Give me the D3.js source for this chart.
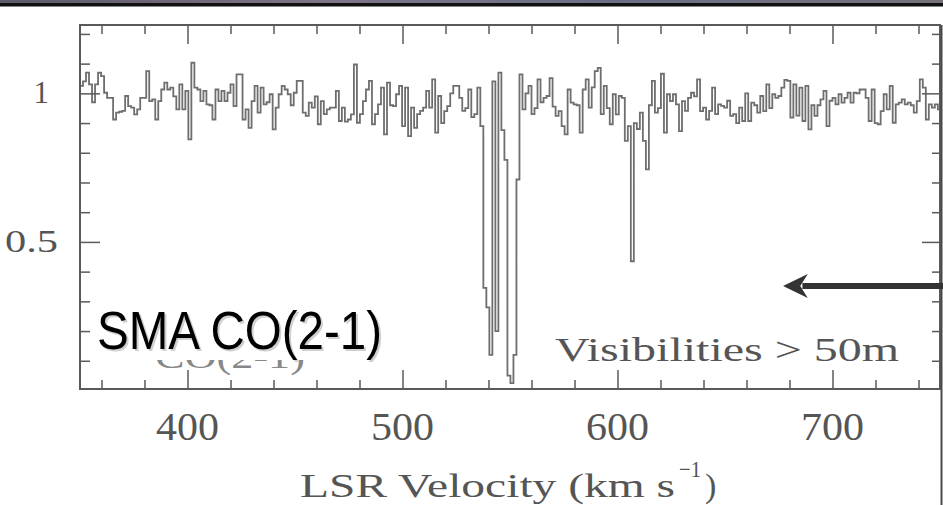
<!DOCTYPE html>
<html>
<head>
<meta charset="utf-8">
<script src="https://cdn.jsdelivr.net/npm/d3@7"></script>
<style>
  html, body { margin: 0; padding: 0; background: #fff; }
  svg { display: block; }
</style>
</head>
<body>
<svg id="chart" width="943" height="505"></svg>
<script>
// Spectrum: SMA CO(2-1), channels of 1.4 km/s starting at 350 km/s
const velStart = 350
const channelWidth = 1.4

// 350 - 446.6 km/s
const fluxA = [1.025, 1.04, 1.07, 1.03, 0.97, 1.03, 1.07, 1.058, 1.002, 0.985,
  0.985, 0.912, 0.935, 0.938, 0.941, 0.991, 0.957, 0.952, 0.929, 0.946,
  0.985, 0.985, 1.075, 0.974, 0.98, 0.912, 0.974, 1.013, 1.036, 1.013,
  1.019, 0.99, 0.946, 1.03, 0.946, 1.008, 0.845, 1.103, 1.019, 1.013,
  0.974, 1.008, 0.963, 0.96, 0.912, 1.013, 0.974, 1.008, 0.974, 1.002,
  1.03, 0.957, 1.064, 1.064, 0.912, 0.946, 0.884, 0.974, 1.025, 0.935,
  1.019, 0.963, 0.97, 0.997, 0.879, 0.952, 0.997, 1.025, 1.013]

// 446.6 - 537.6 km/s
const fluxB = [0.997, 0.96, 1.002, 1.042, 1.042, 0.935, 0.924, 0.969, 0.952, 0.99,
  0.896, 0.974, 0.93, 0.946, 0.952, 0.952, 1.008, 0.907, 0.952, 0.905,
  0.912, 0.929, 1.097, 0.901, 0.93, 0.974, 1.013, 1.042, 0.896, 0.93,
  0.963, 1.019, 0.862, 1.036, 0.96, 0.957, 0.997, 1.025, 0.89, 1.019,
  0.856, 0.952, 0.884, 0.93, 0.941, 0.952, 1.008, 0.952, 1.047, 0.868,
  0.991, 0.9, 0.94, 0.957, 1.0, 1.025, 1.025, 0.985, 0.941, 0.95,
  1.013, 0.92, 0.93, 1.019, 0.89]

// 537.6 - 558.6 km/s, the absorption complex
const fluxC = [0.345, 0.28, 0.12, 1.04, 0.2, 1.07, 0.876, 0.776, 0.05, 0.025,
  0.12, 0.71, 1.064, 0.946, 1.0]

// 558.6 - 750.4 km/s
const fluxD = [1.025, 0.93, 0.95, 1.047, 0.97, 0.985, 0.991, 1.051, 0.955, 0.924,
  0.94, 0.89, 0.862, 1.013, 0.969, 0.963, 0.96, 0.868, 1.013, 1.047,
  0.952, 1.02, 1.075, 1.086, 0.93, 1.025, 0.95, 0.896, 0.997, 0.929,
  0.991, 0.985, 0.84, 0.89, 0.435, 0.9, 0.88, 0.935, 0.84, 0.744,
  0.96, 1.042, 0.935, 0.95, 1.066, 0.868, 0.997, 0.974, 0.997, 0.963,
  0.873, 0.974, 0.941, 0.985, 1.002, 0.99, 1.047, 0.94, 0.952, 0.912,
  0.941, 1.019, 0.93, 0.963, 0.958, 0.952, 0.975, 0.924, 0.93, 0.9,
  0.952, 0.907, 1.0, 0.907, 0.969, 0.96, 0.935, 0.991, 0.94, 1.03,
  0.95, 0.997, 0.985, 0.991, 1.019, 1.045, 1.042, 0.918, 1.03, 0.925,
  1.019, 0.907, 1.025, 0.879, 0.96, 0.924, 0.96, 0.98, 1.008, 0.89,
  0.975, 0.985, 0.963, 0.997, 0.969, 0.985, 1.002, 0.969, 1.002, 1.0,
  1.013, 1.013, 0.985, 0.907, 1.013, 0.9, 0.896, 0.94, 0.997, 0.946,
  1.025, 0.901, 0.963, 0.969, 0.98, 0.963, 0.969, 0.96, 0.935, 0.974,
  1.047, 1.019, 0.912, 0.963, 0.952, 0.963, 0.946]

// axes
const velMajor = [400, 500, 600, 700]
const velLabels = ["400", "500", "600", "700"]
const velMinor = [360, 380, 420, 440, 460, 480, 520, 540, 560, 580, 620, 640, 660, 680, 720, 740]
const fluxMajor = [0.5, 1]
const fluxLabels = ["0.5", "1"]
const fluxMinor = [0.1, 0.2, 0.3, 0.4, 0.6, 0.7, 0.8, 0.9, 1.1, 1.2]

const serif = "'Liberation Serif', 'Times New Roman', serif"
const axisColor = "#5a5a5a"

const svg = d3.select("#chart")

const x = d3.scaleLinear().domain([350, 750]).range([80, 940])
const y = d3.scaleLinear().domain([0.005, 1.23]).range([389, 25])

// top strip of the slide background
const grad = svg.append("defs").append("linearGradient").attr("id", "band")
grad.append("stop").attr("offset", "0%").attr("stop-color", "#5e5a68")
grad.append("stop").attr("offset", "35%").attr("stop-color", "#7d7488")
grad.append("stop").attr("offset", "65%").attr("stop-color", "#6a6f86")
grad.append("stop").attr("offset", "100%").attr("stop-color", "#75707a")
svg.append("rect").attr("x", 0).attr("y", 0).attr("width", 943).attr("height", 3).attr("fill", "url(#band)")
svg.append("rect").attr("x", 0).attr("y", 3).attr("width", 943).attr("height", 3.5).attr("fill", "#111")

svg.append("clipPath").attr("id", "plotClip")
    .append("rect")
        .attr("x", x(350)).attr("y", y(1.23))
        .attr("width", x(750) - x(350)).attr("height", y(0.005) - y(1.23))

// spectrum as a step histogram
const flux = [...fluxA, ...fluxB, ...fluxC, ...fluxD]
const channels = flux.map((f, i) => ({ v: velStart + i * channelWidth, f: f }))
channels.push({ v: velStart + flux.length * channelWidth, f: flux[flux.length - 1] })

const line = d3.line()
    .x(d => x(d.v))
    .y(d => y(d.f))
    .curve(d3.curveStepAfter)

svg.append("path")
    .datum(channels)
    .attr("clip-path", "url(#plotClip)")
    .attr("fill", "none")
    .attr("stroke", "#6e6e6e")
    .attr("stroke-width", 1.8)
    .attr("d", line)

// ticks on all four sides, pointing inward
function tickAxis(axis, values, size, transform) {
    const g = svg.append("g")
        .attr("transform", transform)
        .call(axis.tickValues(values).tickSize(size).tickSizeOuter(0).tickFormat(""))
    g.select(".domain").remove()
    g.selectAll(".tick line").attr("stroke", axisColor).attr("stroke-width", 1.5)
    return g
}

tickAxis(d3.axisBottom(x), velMinor, -9, `translate(0,${y(0.005)})`)
tickAxis(d3.axisBottom(x), velMajor, -19, `translate(0,${y(0.005)})`)
tickAxis(d3.axisTop(x), velMinor, -9, `translate(0,${y(1.23)})`)
tickAxis(d3.axisTop(x), velMajor, -19, `translate(0,${y(1.23)})`)
tickAxis(d3.axisLeft(y), fluxMinor, -10, `translate(${x(350)},0)`)
tickAxis(d3.axisLeft(y), fluxMajor, -20, `translate(${x(350)},0)`)
tickAxis(d3.axisRight(y), fluxMinor, -8, `translate(${x(750)},0)`)
tickAxis(d3.axisRight(y), fluxMajor, -18, `translate(${x(750)},0)`)

// frame
svg.append("rect")
    .attr("x", x(350)).attr("y", y(1.23))
    .attr("width", x(750) - x(350)).attr("height", y(0.005) - y(1.23))
    .attr("fill", "none")
    .attr("stroke", axisColor)
    .attr("stroke-width", 2)

// slide edge on the right
svg.append("line")
    .attr("x1", 941.5).attr("x2", 941.5).attr("y1", y(1.23)).attr("y2", 505)
    .attr("stroke", "#4a4a4a").attr("stroke-width", 2)

// tick labels
svg.append("g").selectAll("text")
    .data(velMajor)
    .join("text")
        .attr("x", d => x(d))
        .attr("y", 440)
        .attr("text-anchor", "middle")
        .attr("font-family", serif)
        .attr("font-size", 39)
        .attr("fill", "#555")
        .attr("textLength", 63)
        .attr("lengthAdjust", "spacingAndGlyphs")
        .text((d, i) => velLabels[i])

svg.append("g").selectAll("text")
    .data(fluxMajor)
    .join("text")
        .attr("x", (d, i) => fluxLabels[i].length > 1 ? 58 : 49)
        .attr("y", d => y(d) + 10)
        .attr("text-anchor", "end")
        .attr("font-family", serif)
        .attr("font-size", 31)
        .attr("fill", "#555")
        .each(function (d, i) {
            if (fluxLabels[i].length > 1) d3.select(this).attr("textLength", 53).attr("lengthAdjust", "spacingAndGlyphs")
        })
        .text((d, i) => fluxLabels[i])

// axis title
const title = svg.append("g").attr("font-family", serif).attr("fill", "#555")
title.append("text")
    .attr("x", 300).attr("y", 497)
    .attr("font-size", 34)
    .attr("textLength", 375)
    .attr("lengthAdjust", "spacingAndGlyphs")
    .text("LSR Velocity (km s")
title.append("text")
    .attr("x", 679).attr("y", 477)
    .attr("font-size", 23)
    .attr("textLength", 22)
    .attr("lengthAdjust", "spacingAndGlyphs")
    .text("\u22121")
title.append("text")
    .attr("x", 705).attr("y", 497)
    .attr("font-size", 34)
    .text(")")

// annotation inside the plot
svg.append("text")
    .attr("x", 555).attr("y", 361)
    .attr("font-family", serif)
    .attr("font-size", 33)
    .attr("fill", "#555")
    .attr("textLength", 344)
    .attr("lengthAdjust", "spacingAndGlyphs")
    .text("Visibilities > 50m")

// old line label, mostly hidden under the SMA label
svg.append("text")
    .attr("x", 155).attr("y", 368)
    .attr("font-family", serif)
    .attr("font-size", 33)
    .attr("fill", "#888")
    .attr("textLength", 150)
    .attr("lengthAdjust", "spacingAndGlyphs")
    .text("CO(2-1)")
svg.append("rect")
    .attr("x", 150).attr("y", 296).attr("width", 165).attr("height", 64)
    .attr("fill", "#fff")

const sma = svg.append("g")
    .attr("font-family", "'Liberation Sans', Arial, sans-serif")
    .attr("font-size", 54)
sma.append("text")
    .attr("x", 99).attr("y", 351)
    .attr("fill", "#d0d0d0")
    .attr("textLength", 285)
    .attr("lengthAdjust", "spacingAndGlyphs")
    .text("SMA CO(2-1)")
sma.append("text")
    .attr("x", 97).attr("y", 349)
    .attr("fill", "#000")
    .attr("textLength", 285)
    .attr("lengthAdjust", "spacingAndGlyphs")
    .text("SMA CO(2-1)")

// arrow coming in from the right
const arrowY = y(0.352)
svg.append("line")
    .attr("x1", 943).attr("x2", x(686))
    .attr("y1", arrowY).attr("y2", arrowY)
    .attr("stroke", "#333").attr("stroke-width", 6)
svg.append("path")
    .attr("d", `M${x(677)},${arrowY} L${x(688.5)},${arrowY - 12} L${x(685)},${arrowY} L${x(688.5)},${arrowY + 12} Z`)
    .attr("fill", "#333")
</script>
</body>
</html>
